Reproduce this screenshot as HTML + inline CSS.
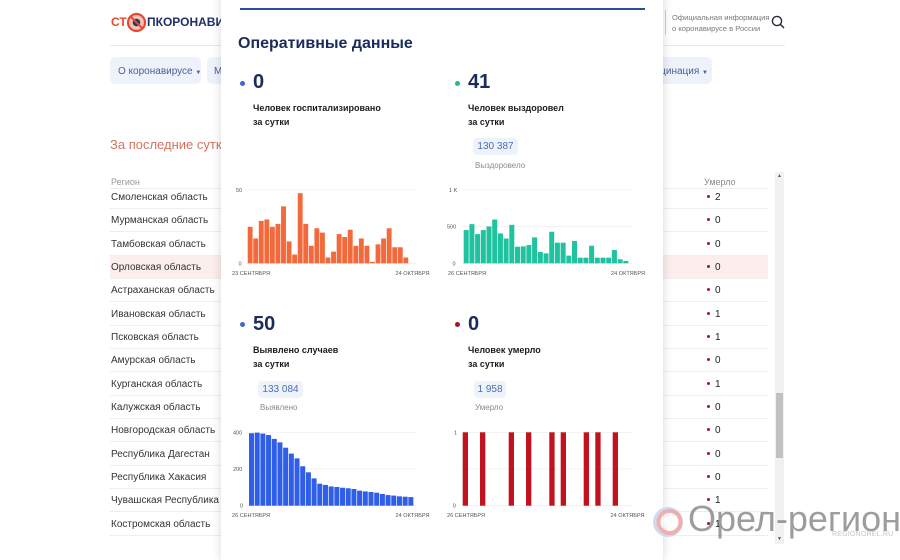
<!DOCTYPE html>
<html><head><meta charset="utf-8"><style>
*{margin:0;padding:0;box-sizing:border-box}
html,body{width:900px;height:544px;overflow:hidden;background:#fff;font-family:"Liberation Sans","DejaVu Sans",sans-serif}
.a{position:absolute;white-space:nowrap}
.row{position:absolute;left:110px;width:658px;height:23px;border-bottom:1px solid #eeeeee}
.rn{position:absolute;left:1px;top:0;line-height:23px;font-size:10px;color:#333}
.rv{position:absolute;left:597px;top:0;line-height:23px;font-size:10px;color:#222}
.rv i{display:inline-block;width:3px;height:3px;border-radius:50%;background:#a3162a;margin-right:5px;vertical-align:2px}
.pill{position:absolute;background:#eef3fb;border-radius:4px;color:#4a6db3;font-size:10px;line-height:17px;text-align:center}
.lbl{position:absolute;font-size:9px;font-weight:bold;color:#1c1c1c;line-height:14px}
.sub{position:absolute;font-size:8px;color:#8a8a8a;line-height:10px}
.big{position:absolute;font-size:20px;font-weight:bold;color:#1b2c5c;line-height:20px}
.dot{position:absolute;width:5px;height:5px;border-radius:50%}
</style></head><body>

<!-- background site -->
<div class="a" style="left:111px;top:14px;font-size:12px;font-weight:bold;color:#e8492e;line-height:16px">СТ</div>
<svg class="a" style="left:126px;top:12px" width="21" height="21" viewBox="0 0 21 21">
<circle cx="10.5" cy="10.5" r="8.5" fill="#f3c1b5" stroke="#e8492e" stroke-width="2.2"/>
<circle cx="10.5" cy="10.5" r="3.8" fill="#2a3566"/>
<line x1="4" y1="4" x2="17" y2="17" stroke="#e8492e" stroke-width="2"/>
</svg>
<div class="a" style="left:147px;top:14px;font-size:12px;font-weight:bold;color:#1f2f66;line-height:16px">ПКОРОНАВИРУС</div>
<div class="a" style="left:110px;top:45px;width:675px;height:1px;background:#e9e9e9"></div>

<div class="a" style="left:665px;top:10px;width:1px;height:25px;background:#d0d0d0"></div>
<div class="a" style="left:672px;top:12px;font-size:7.6px;color:#7a7a7a;line-height:11px">Официальная информация<br>о коронавирусе в России</div>
<svg class="a" style="left:770px;top:14px" width="16" height="16" viewBox="0 0 16 16">
<circle cx="7" cy="7" r="4.6" fill="none" stroke="#2a2a3a" stroke-width="1.4"/>
<line x1="10.4" y1="10.4" x2="14" y2="14" stroke="#2a2a3a" stroke-width="1.5"/>
</svg>

<div class="a" style="left:110px;top:57px;width:91px;height:27px;background:#eef3fb;border-radius:5px"></div>
<div class="a" style="left:118px;top:64px;font-size:10px;color:#4b5c9c;line-height:16px">О коронавирусе <span style="font-size:6px">▼</span></div>
<div class="a" style="left:207px;top:57px;width:60px;height:27px;background:#eef3fb;border-radius:5px"></div>
<div class="a" style="left:214px;top:64px;font-size:10px;color:#4b5c9c;line-height:16px">Меры</div>
<div class="a" style="left:600px;top:57px;width:112px;height:27px;background:#eef3fb;border-radius:5px"></div>
<div class="a" style="left:600px;top:64px;width:108px;text-align:right;font-size:10px;color:#4b5c9c;line-height:16px">Вакцинация <span style="font-size:6px">▼</span></div>

<div class="a" style="left:110px;top:136px;font-size:13px;color:#d7715e;line-height:18px">За последние сутки</div>
<div class="a" style="left:111px;top:176px;font-size:9px;color:#9a9a9a;line-height:12px">Регион</div>
<div class="a" style="left:704px;top:176px;font-size:9px;color:#8a8a8a;line-height:12px">Умерло</div>
<div class="a" style="left:110px;top:188px;width:658px;height:1px;background:#eeeeee"></div>

<div class="row" style="top:186px"><span class="rn">Смоленская область</span><span class="rv"><i></i>2</span></div>
<div class="row" style="top:209px"><span class="rn">Мурманская область</span><span class="rv"><i></i>0</span></div>
<div class="row" style="top:233px"><span class="rn">Тамбовская область</span><span class="rv"><i></i>0</span></div>
<div class="row" style="top:256px;background:#fdeeee"><span class="rn">Орловская область</span><span class="rv"><i></i>0</span></div>
<div class="row" style="top:279px"><span class="rn">Астраханская область</span><span class="rv"><i></i>0</span></div>
<div class="row" style="top:303px"><span class="rn">Ивановская область</span><span class="rv"><i></i>1</span></div>
<div class="row" style="top:326px"><span class="rn">Псковская область</span><span class="rv"><i></i>1</span></div>
<div class="row" style="top:349px"><span class="rn">Амурская область</span><span class="rv"><i></i>0</span></div>
<div class="row" style="top:373px"><span class="rn">Курганская область</span><span class="rv"><i></i>1</span></div>
<div class="row" style="top:396px"><span class="rn">Калужская область</span><span class="rv"><i></i>0</span></div>
<div class="row" style="top:419px"><span class="rn">Новгородская область</span><span class="rv"><i></i>0</span></div>
<div class="row" style="top:443px"><span class="rn">Республика Дагестан</span><span class="rv"><i></i>0</span></div>
<div class="row" style="top:466px"><span class="rn">Республика Хакасия</span><span class="rv"><i></i>0</span></div>
<div class="row" style="top:489px"><span class="rn">Чувашская Республика</span><span class="rv"><i></i>1</span></div>
<div class="row" style="top:513px"><span class="rn">Костромская область</span><span class="rv"><i></i>1</span></div>

<!-- scrollbar -->
<div class="a" style="left:775px;top:172px;width:9px;height:372px;background:#f1f1f1"></div>
<div class="a" style="left:776px;top:393px;width:7px;height:65px;background:#c1c1c1"></div>
<div class="a" style="left:777px;top:173px;font-size:5px;color:#555;line-height:6px">▲</div>
<div class="a" style="left:777px;top:536px;font-size:5px;color:#555;line-height:6px">▼</div>

<!-- modal -->
<div class="a" style="left:221px;top:-10px;width:442px;height:570px;background:#fff;box-shadow:0 0 9px rgba(0,0,0,0.16)"></div>
<div class="a" style="left:240px;top:8px;width:405px;height:1.5px;background:#2d4d9e"></div>
<div class="a" style="left:238px;top:34px;font-size:16px;font-weight:bold;color:#1b2c5c;line-height:20px">Оперативные данные</div>

<div class="dot" style="left:239.5px;top:80.5px;background:#4066c8"></div>
<div class="big" style="left:253px;top:72px">0</div>
<div class="lbl" style="left:253px;top:101px">Человек госпитализировано<br>за сутки</div>

<div class="dot" style="left:454.5px;top:80.5px;background:#25b891"></div>
<div class="big" style="left:468px;top:72px">41</div>
<div class="lbl" style="left:468px;top:101px">Человек выздоровел<br>за сутки</div>
<div class="pill" style="left:473px;top:138px;width:45px">130 387</div>
<div class="sub" style="left:475px;top:161px">Выздоровело</div>

<div class="dot" style="left:239.5px;top:322px;background:#4066c8"></div>
<div class="big" style="left:253px;top:314px">50</div>
<div class="lbl" style="left:253px;top:343px">Выявлено случаев<br>за сутки</div>
<div class="pill" style="left:258px;top:381px;width:45px">133 084</div>
<div class="sub" style="left:260px;top:403px">Выявлено</div>

<div class="dot" style="left:454.5px;top:322px;background:#a3162a"></div>
<div class="big" style="left:468px;top:314px">0</div>
<div class="lbl" style="left:468px;top:343px">Человек умерло<br>за сутки</div>
<div class="pill" style="left:474px;top:381px;width:32px">1 958</div>
<div class="sub" style="left:475px;top:403px">Умерло</div>

<svg class="a" style="left:0;top:0" width="900" height="544" viewBox="0 0 900 544" font-family="Liberation Sans, sans-serif">
<g stroke="#efefef" stroke-width="0.8">
<line x1="246" y1="190" x2="416" y2="190"/><line x1="246" y1="263.5" x2="416" y2="263.5"/>
<line x1="462" y1="190" x2="632" y2="190"/><line x1="462" y1="226.7" x2="632" y2="226.7"/><line x1="462" y1="263.5" x2="632" y2="263.5"/>
<line x1="247" y1="432.3" x2="416" y2="432.3"/><line x1="247" y1="469" x2="416" y2="469"/><line x1="247" y1="505.7" x2="416" y2="505.7"/>
<line x1="462" y1="432.3" x2="632" y2="432.3"/><line x1="462" y1="469" x2="632" y2="469"/><line x1="462" y1="505.7" x2="632" y2="505.7"/>
</g>
<g fill="#f26a3c" transform="translate(247.7,263.3) scale(5.56,-1.46)">
<rect x="0" y="0" width="0.88" height="25"/><rect x="1" y="0" width="0.88" height="17"/><rect x="2" y="0" width="0.88" height="29"/><rect x="3" y="0" width="0.88" height="30"/><rect x="4" y="0" width="0.88" height="25"/><rect x="5" y="0" width="0.88" height="27"/><rect x="6" y="0" width="0.88" height="39"/><rect x="7" y="0" width="0.88" height="15"/><rect x="8" y="0" width="0.88" height="6"/><rect x="9" y="0" width="0.88" height="48"/><rect x="10" y="0" width="0.88" height="27"/><rect x="11" y="0" width="0.88" height="12"/><rect x="12" y="0" width="0.88" height="24"/><rect x="13" y="0" width="0.88" height="21"/><rect x="14" y="0" width="0.88" height="4"/><rect x="15" y="0" width="0.88" height="8"/><rect x="16" y="0" width="0.88" height="20"/><rect x="17" y="0" width="0.88" height="18"/><rect x="18" y="0" width="0.88" height="23"/><rect x="19" y="0" width="0.88" height="12"/><rect x="20" y="0" width="0.88" height="17"/><rect x="21" y="0" width="0.88" height="12"/><rect x="22" y="0" width="0.88" height="1"/><rect x="23" y="0" width="0.88" height="13"/><rect x="24" y="0" width="0.88" height="17"/><rect x="25" y="0" width="0.88" height="24"/><rect x="26" y="0" width="0.88" height="11"/><rect x="27" y="0" width="0.88" height="11"/><rect x="28" y="0" width="0.88" height="4"/>
</g>
<g fill="#20c39f" transform="translate(463.7,263.3) scale(5.7,-0.073)">
<rect x="0" y="0" width="0.88" height="455"/><rect x="1" y="0" width="0.88" height="536"/><rect x="2" y="0" width="0.88" height="400"/><rect x="3" y="0" width="0.88" height="455"/><rect x="4" y="0" width="0.88" height="505"/><rect x="5" y="0" width="0.88" height="600"/><rect x="6" y="0" width="0.88" height="410"/><rect x="7" y="0" width="0.88" height="340"/><rect x="8" y="0" width="0.88" height="527"/><rect x="9" y="0" width="0.88" height="227"/><rect x="10" y="0" width="0.88" height="232"/><rect x="11" y="0" width="0.88" height="250"/><rect x="12" y="0" width="0.88" height="355"/><rect x="13" y="0" width="0.88" height="155"/><rect x="14" y="0" width="0.88" height="136"/><rect x="15" y="0" width="0.88" height="432"/><rect x="16" y="0" width="0.88" height="282"/><rect x="17" y="0" width="0.88" height="282"/><rect x="18" y="0" width="0.88" height="105"/><rect x="19" y="0" width="0.88" height="305"/><rect x="20" y="0" width="0.88" height="77"/><rect x="21" y="0" width="0.88" height="77"/><rect x="22" y="0" width="0.88" height="241"/><rect x="23" y="0" width="0.88" height="77"/><rect x="24" y="0" width="0.88" height="77"/><rect x="25" y="0" width="0.88" height="77"/><rect x="26" y="0" width="0.88" height="182"/><rect x="27" y="0" width="0.88" height="55"/><rect x="28" y="0" width="0.88" height="32"/>
</g>
<g fill="#2f5ee8" transform="translate(249,505.7) scale(5.69,-0.1835)">
<rect x="0" y="0" width="0.88" height="395"/><rect x="1" y="0" width="0.88" height="398"/><rect x="2" y="0" width="0.88" height="393"/><rect x="3" y="0" width="0.88" height="385"/><rect x="4" y="0" width="0.88" height="364"/><rect x="5" y="0" width="0.88" height="345"/><rect x="6" y="0" width="0.88" height="316"/><rect x="7" y="0" width="0.88" height="284"/><rect x="8" y="0" width="0.88" height="258"/><rect x="9" y="0" width="0.88" height="215"/><rect x="10" y="0" width="0.88" height="182"/><rect x="11" y="0" width="0.88" height="149"/><rect x="12" y="0" width="0.88" height="120"/><rect x="13" y="0" width="0.88" height="113"/><rect x="14" y="0" width="0.88" height="105"/><rect x="15" y="0" width="0.88" height="102"/><rect x="16" y="0" width="0.88" height="98"/><rect x="17" y="0" width="0.88" height="95"/><rect x="18" y="0" width="0.88" height="91"/><rect x="19" y="0" width="0.88" height="82"/><rect x="20" y="0" width="0.88" height="78"/><rect x="21" y="0" width="0.88" height="75"/><rect x="22" y="0" width="0.88" height="71"/><rect x="23" y="0" width="0.88" height="64"/><rect x="24" y="0" width="0.88" height="58"/><rect x="25" y="0" width="0.88" height="55"/><rect x="26" y="0" width="0.88" height="51"/><rect x="27" y="0" width="0.88" height="49"/><rect x="28" y="0" width="0.88" height="47"/>
</g>
<g fill="#c2111f">
<rect x="462.7" y="432.3" width="5.3" height="73.4"/><rect x="480" y="432.3" width="5.3" height="73.4"/><rect x="508.7" y="432.3" width="5.3" height="73.4"/><rect x="526" y="432.3" width="5.3" height="73.4"/><rect x="549.3" y="432.3" width="5.3" height="73.4"/><rect x="560.7" y="432.3" width="5.3" height="73.4"/><rect x="583.7" y="432.3" width="5.3" height="73.4"/><rect x="595.3" y="432.3" width="5.3" height="73.4"/><rect x="612.7" y="432.3" width="5.3" height="73.4"/>
</g>
<g font-size="5.5" fill="#555">
<text x="236" y="192">50</text><text x="238.5" y="265.3">0</text>
<text x="449" y="192">1 K</text><text x="447" y="228.7">500</text><text x="452.5" y="265.3">0</text>
<text x="233" y="434.3">400</text><text x="233" y="471">200</text><text x="240" y="507.7">0</text>
<text x="454" y="434.3">1</text><text x="452.7" y="507.7">0</text>
<text x="232" y="274.8" textLength="38" lengthAdjust="spacingAndGlyphs">23 СЕНТЯБРЯ</text>
<text x="395.5" y="274.8" textLength="34" lengthAdjust="spacingAndGlyphs">24 ОКТЯБРЯ</text>
<text x="448" y="274.8" textLength="38" lengthAdjust="spacingAndGlyphs">26 СЕНТЯБРЯ</text>
<text x="611" y="274.8" textLength="34" lengthAdjust="spacingAndGlyphs">24 ОКТЯБРЯ</text>
<text x="232" y="517" textLength="38" lengthAdjust="spacingAndGlyphs">26 СЕНТЯБРЯ</text>
<text x="395.5" y="517" textLength="34" lengthAdjust="spacingAndGlyphs">24 ОКТЯБРЯ</text>
<text x="447" y="517" textLength="38" lengthAdjust="spacingAndGlyphs">26 СЕНТЯБРЯ</text>
<text x="610.5" y="517" textLength="34" lengthAdjust="spacingAndGlyphs">24 ОКТЯБРЯ</text>
</g>
<!-- watermark logo -->
<circle cx="668" cy="522" r="13" fill="none" stroke="#c9d3ec" stroke-width="4" opacity="0.85"/>
<circle cx="669.5" cy="522" r="11" fill="none" stroke="#f0a9a9" stroke-width="4" opacity="0.9"/>
<circle cx="669.5" cy="522" r="6.5" fill="#fff" opacity="0.6"/>
</svg>

<div class="a" style="left:688px;top:501px;font-size:36px;line-height:36px;color:rgba(110,110,110,0.68)">Орел-регион</div>
<div class="a" style="left:832px;top:530px;font-size:7px;line-height:9px;color:#c4c4c4;letter-spacing:0.2px">REGIONOREL.RU</div>

</body></html>
